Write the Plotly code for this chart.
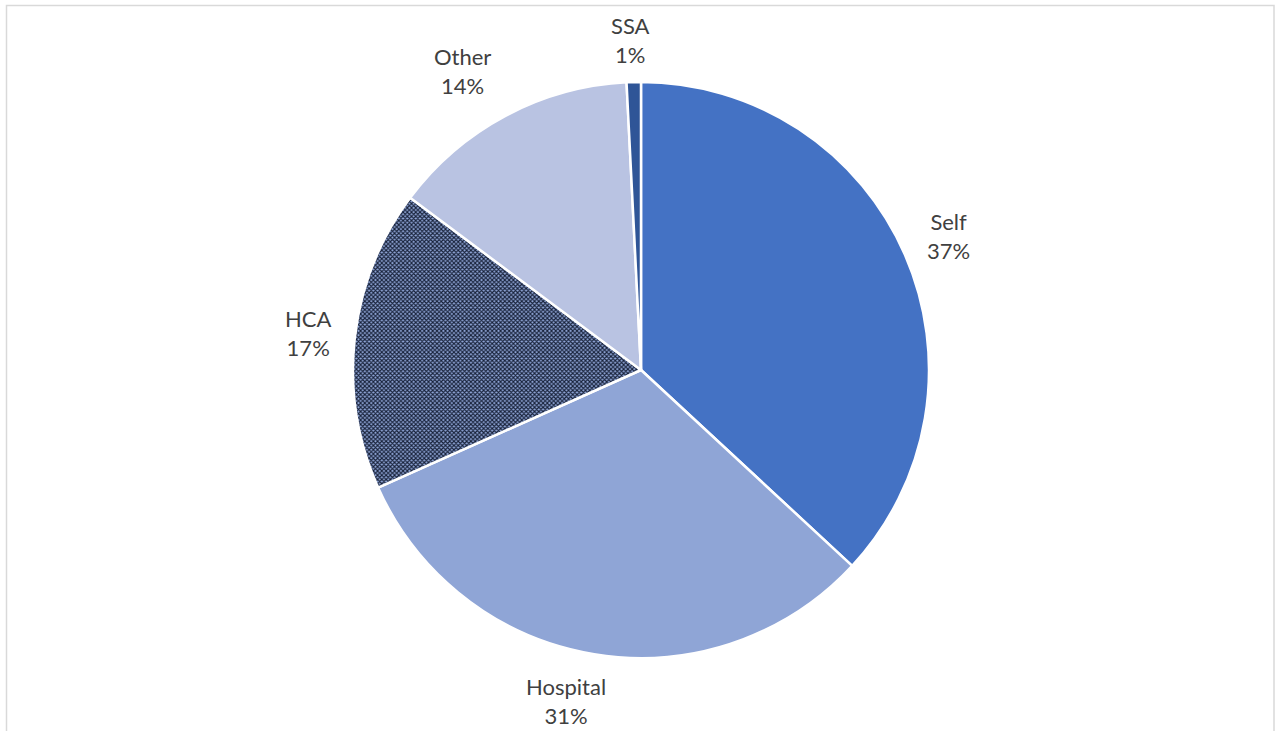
import math
import plotly.graph_objects as go

# Share of records by source (clockwise from 12 o'clock)
sources = ["Self", "Hospital", "HCA", "Other", "SSA"]
shares = [36.9, 31.4, 16.9, 14.0, 0.8]
slice_colors = ["#4472C4", "#8FA5D6", "#8FA5D6", "#B9C3E2", "#2F5597"]

W, H = 1276, 731
cx, cy, R = 641, 370, 288  # pie centre and radius in pixels

fig = go.Figure(go.Pie(
    labels=sources,
    values=shares,
    sort=False,
    direction="clockwise",
    rotation=0,
    textinfo="none",
    hoverinfo="label+percent",
    marker=dict(
        colors=slice_colors,
        line=dict(color="white", width=2.5),
        pattern=dict(
            shape=["", "", "x", "", ""],
            fgcolor="#18223A",
            bgcolor="#8FA5D6",
            size=3,
            solidity=0.6,
        ),
    ),
    domain=dict(x=[(cx - R) / W, (cx + R) / W],
                y=[(H - cy - R) / H, (H - cy + R) / H]),
    showlegend=False,
))

# Category/percent labels outside each slice near its mid-angle,
# with small pixel nudges so neighbouring labels sit clear of each other
label_nudge = {"Hospital": (-20, 0), "Other": (-21, -3), "SSA": (-2, 5)}
total = sum(shares)
label_r = R * 1.165
annotations = []
cum = 0.0
for name, v in zip(sources, shares):
    mid = (cum + v / 2) / total * 2 * math.pi
    cum += v
    dx, dy = label_nudge.get(name, (0, 0))
    px = cx + label_r * math.sin(mid) + dx
    py = cy - label_r * math.cos(mid) + dy
    annotations.append(dict(
        x=px / W, y=1 - py / H, xref="paper", yref="paper",
        text=f"{name}<br>{round(v / total * 100)}%",
        showarrow=False, xanchor="center", yanchor="middle",
        font=dict(family="Lato, Open Sans, sans-serif", size=22, color="#404040"),
        align="center",
    ))

fig.update_layout(
    width=W, height=H,
    margin=dict(l=0, r=0, t=0, b=0),
    paper_bgcolor="white",
    annotations=annotations,
    shapes=[dict(
        type="rect", xref="paper", yref="paper",
        x0=6.5 / W, x1=1274 / W, y0=-0.05, y1=1 - 5.5 / H,
        line=dict(color="#D9D9D9", width=1.5), fillcolor="rgba(0,0,0,0)",
    )],
)

fig.write_html("out.html")
